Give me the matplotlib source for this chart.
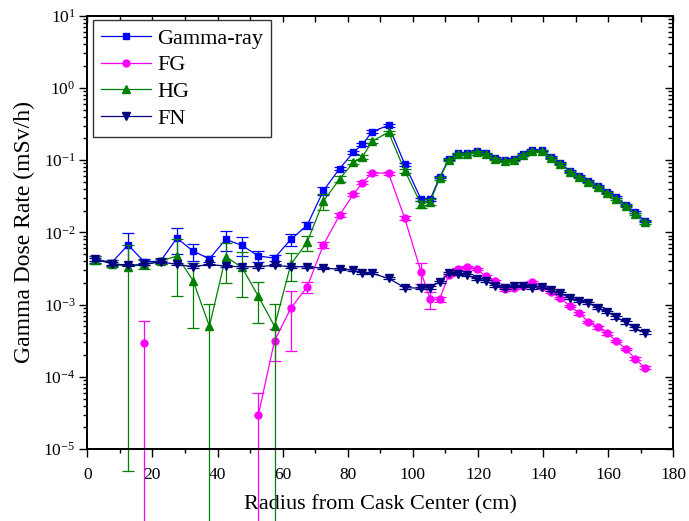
import numpy as np
import matplotlib
matplotlib.use('Agg')
import matplotlib.pyplot as plt
from matplotlib.ticker import FixedLocator, MultipleLocator, NullFormatter, LogFormatterSciNotation

plt.rcParams['font.family'] = ['Liberation Serif', 'DejaVu Serif']
plt.rcParams['mathtext.fontset'] = 'custom'
plt.rcParams['mathtext.rm'] = 'Liberation Serif'
plt.rcParams['mathtext.it'] = 'Liberation Serif:italic'
plt.rcParams['mathtext.bf'] = 'Liberation Serif:bold'

nan = np.nan

radius = [2.5, 7.5, 12.5, 17.5, 22.5, 27.5, 32.5, 37.5, 42.5, 47.5, 52.5, 57.5,
          62.5, 67.5, 72.5, 77.5, 81.7, 84.5, 87.5, 92.5, 97.5,
          102.5, 105.3, 108.2, 111.0, 113.9, 116.7, 119.6, 122.4, 125.3, 128.2,
          131.0, 133.9, 136.7, 139.6, 142.5, 145.3, 148.2, 151.1, 153.9, 156.8,
          159.7, 162.5, 165.4, 168.3, 171.2]

gamma = [0.00427, 0.0038, 0.0067, 0.0039, 0.0040, 0.0083, 0.0055, 0.0043, 0.0080, 0.0066,
         0.0047, 0.0044, 0.0080, 0.0125, 0.0377, 0.0765, 0.128, 0.166, 0.248, 0.303, 0.0875,
         0.0286, 0.0286, 0.058, 0.1026, 0.124, 0.127, 0.134, 0.124, 0.106, 0.100,
         0.1026, 0.1216, 0.138, 0.136, 0.111, 0.0904, 0.0713, 0.0602, 0.0519, 0.0438,
         0.0365, 0.0305, 0.0239, 0.0189, 0.0145]
gamma_err = [0.0005, 0.0004, 0.0032, 0.0004, 0.0003, 0.0033, 0.0015, 0.0004, 0.0025, 0.0019,
             0.0008, 0.0004, 0.0015, 0.0012, 0.0045, 0.004, 0.006, 0.007, 0.01, 0.012, 0.004,
             0.0015, 0.0015, 0.002, 0.003, 0.003, 0.003, 0.003, 0.003, 0.003, 0.003,
             0.003, 0.003, 0.003, 0.003, 0.003, 0.0025, 0.002, 0.0018, 0.0015, 0.0013,
             0.0011, 0.0009, 0.0007, 0.0006, 0.0005]

fg = [nan, nan, nan, 0.000297, nan, nan, nan, nan, nan, nan,
      2.92e-5, 0.000315, 0.00089, 0.00175, 0.0067, 0.0174, 0.0336, 0.0487, 0.0662, 0.0662, 0.0156,
      0.00282, 0.00118, 0.00118, 0.00257, 0.00312, 0.00334, 0.00314, 0.00245, 0.00212, 0.00162,
      0.00170, 0.00182, 0.00204, 0.00177, 0.00150, 0.00122, 0.00096, 0.000755, 0.000578, 0.000483,
      0.000398, 0.000315, 0.000242, 0.000178, 0.000133]
fg_err = [nan, nan, nan, 0.00030, nan, nan, nan, nan, nan, nan,
          3.0e-5, 0.00015, 0.00066, 0.0003, 0.0006, 0.001, 0.0015, 0.002, 0.003, 0.003, 0.001,
          0.0009, 0.0003, 0.00008, 0.0001, 0.0001, 0.0001, 0.0001, 0.0001, 0.0001, 0.00006,
          0.00006, 0.00006, 0.00006, 0.00006, 0.00005, 0.00004, 0.00003, 0.00003, 0.00002, 0.00002,
          0.00002, 0.00001, 0.00001, 0.000008, 0.000006]

hg = [0.0042, 0.0037, 0.00334, 0.0036, 0.0040, 0.0047, 0.00214, 0.0005, 0.0046, 0.00327,
      0.00131, 0.0005, 0.0036, 0.0073, 0.027, 0.0547, 0.093, 0.111, 0.183, 0.243, 0.0713,
      0.0244, 0.0265, 0.056, 0.100, 0.120, 0.123, 0.130, 0.120, 0.103, 0.097,
      0.100, 0.118, 0.134, 0.132, 0.108, 0.088, 0.069, 0.058, 0.050, 0.042,
      0.035, 0.029, 0.023, 0.018, 0.0138]
hg_err = [0.0005, 0.0004, 0.003335, 0.0005, 0.0004, 0.0034, 0.00167, 0.00052, 0.0026, 0.0020,
          0.00076, 0.00052, 0.0015, 0.0017, 0.0066, 0.005, 0.006, 0.007, 0.01, 0.012, 0.005,
          0.0025, 0.0025, 0.003, 0.004, 0.004, 0.004, 0.004, 0.004, 0.004, 0.004,
          0.004, 0.004, 0.004, 0.004, 0.0035, 0.003, 0.0025, 0.002, 0.0018, 0.0015,
          0.0012, 0.001, 0.0008, 0.0007, 0.0006]

fn = [0.00427, 0.0037, 0.00349, 0.0036, 0.0039, 0.0036, 0.00334, 0.0036, 0.0034, 0.00334,
      0.00334, 0.0035, 0.00334, 0.00334, 0.00317, 0.0031, 0.0030, 0.0027, 0.0027, 0.0023, 0.00172,
      0.00168, 0.00172, 0.00207, 0.0027, 0.00264, 0.00257, 0.00225, 0.00214, 0.0018, 0.00172,
      0.0018, 0.0018, 0.00172, 0.00177, 0.00158, 0.00143, 0.00124, 0.00113, 0.00106, 0.000885,
      0.000795, 0.000665, 0.000566, 0.000468, 0.000407]
fn_err = [0.0002, 0.00015, 0.00012, 0.00012, 0.00012, 0.00012, 0.0001, 0.0001, 0.0001, 0.0001,
          0.0001, 0.0001, 0.0001, 0.0001, 0.0001, 0.0001, 0.0001, 0.00008, 0.00008, 0.00007, 0.00006,
          0.00006, 0.00006, 0.00006, 0.00008, 0.00008, 0.00008, 0.00007, 0.00007, 0.00006, 0.00006,
          0.00006, 0.00006, 0.00006, 0.00006, 0.00005, 0.00005, 0.00004, 0.00004, 0.00004, 0.00003,
          0.00003, 0.00003, 0.00002, 0.00002, 0.00002]

y_decades = [1e-5, 1e-4, 1e-3, 1e-2, 1e-1, 1e0, 1e1]

series = [
    ("Gamma-ray", gamma, gamma_err, '#0000FF', 's', 4.5),
    ("FG", fg, fg_err, '#FF00FF', 'o', 5.0),
    ("HG", hg, hg_err, '#008000', '^', 5.5),
    ("FN", fn, fn_err, '#000080', 'v', 5.5),
]

fig = plt.figure(figsize=(6.89, 5.21), dpi=100)
ax = fig.add_axes([0.1267, 0.1382, 0.8507, 0.8317])
ax.set_yscale('log')

handles = []
for i, (name, vals, errs, col, mk, ms) in enumerate(series):
    eb = ax.errorbar(radius, vals, yerr=errs, color=col, ecolor=col, marker=mk,
                     markersize=ms, linewidth=0.9, elinewidth=0.9, capsize=4,
                     capthick=0.9, label=name, zorder=3 + i)
    for cap in eb[1]:
        cap.set_clip_on(False)
    for lc in eb[2]:
        lc.set_clip_on(False)
    handles.append(eb[0])

ax.set_xlim(0, 180)
ax.set_ylim(1e-5, 10)

minor_y = [m * d for d in y_decades[:-1] for m in range(2, 10)]

ax.xaxis.set_major_locator(MultipleLocator(20))
ax.xaxis.set_minor_locator(MultipleLocator(10))
ax.yaxis.set_major_locator(FixedLocator(y_decades))
ax.yaxis.set_minor_locator(FixedLocator(minor_y))
ax.yaxis.set_minor_formatter(NullFormatter())
ax.yaxis.set_major_formatter(LogFormatterSciNotation())

ax.tick_params(axis='both', which='major', direction='out', length=5.5, width=1.0,
               labelsize=12.5, top=False, right=False)
ax.tick_params(axis='both', which='minor', direction='out', length=3, width=1.0,
               top=False, right=False)
ax.tick_params(axis='x', which='major', pad=7.5)
ax.tick_params(axis='y', which='major', pad=3)

for sp in ax.spines.values():
    sp.set_linewidth(1.3)

# mirrored inward ticks on top and right
axt = ax.twiny()
axt.set_xlim(0, 180)
axt.xaxis.set_major_locator(MultipleLocator(20))
axt.xaxis.set_minor_locator(MultipleLocator(10))
axt.tick_params(axis='x', which='major', direction='in', length=4, width=1.0, labeltop=False)
axt.tick_params(axis='x', which='minor', direction='in', length=4, width=1.0)

axr = ax.twinx()
axr.set_yscale('log')
axr.set_ylim(1e-5, 10)
axr.yaxis.set_major_locator(FixedLocator(y_decades))
axr.yaxis.set_minor_locator(FixedLocator(minor_y))
axr.yaxis.set_minor_formatter(NullFormatter())
axr.tick_params(axis='y', which='major', direction='in', length=6, width=1.0, labelright=False)
axr.tick_params(axis='y', which='minor', direction='in', length=3.5, width=1.0)
for a in (axt, axr):
    for sp in a.spines.values():
        sp.set_linewidth(1.3)

ax.set_xlabel("Radius from Cask Center (cm)", fontsize=16, labelpad=9)
ax.set_ylabel("Gamma Dose Rate (mSv/h)", fontsize=17, labelpad=6)

leg = axr.legend(handles, [s[0] for s in series], loc='upper left',
                 bbox_to_anchor=(0.0102, 0.99), fontsize=16, numpoints=1,
                 handlelength=2.25, handletextpad=0.27, labelspacing=0.28,
                 borderpad=0.36, borderaxespad=0.0, fancybox=False, framealpha=1,
                 edgecolor='#333333')
leg.get_frame().set_linewidth(1.0)

fig.savefig('out.png', dpi=100)
